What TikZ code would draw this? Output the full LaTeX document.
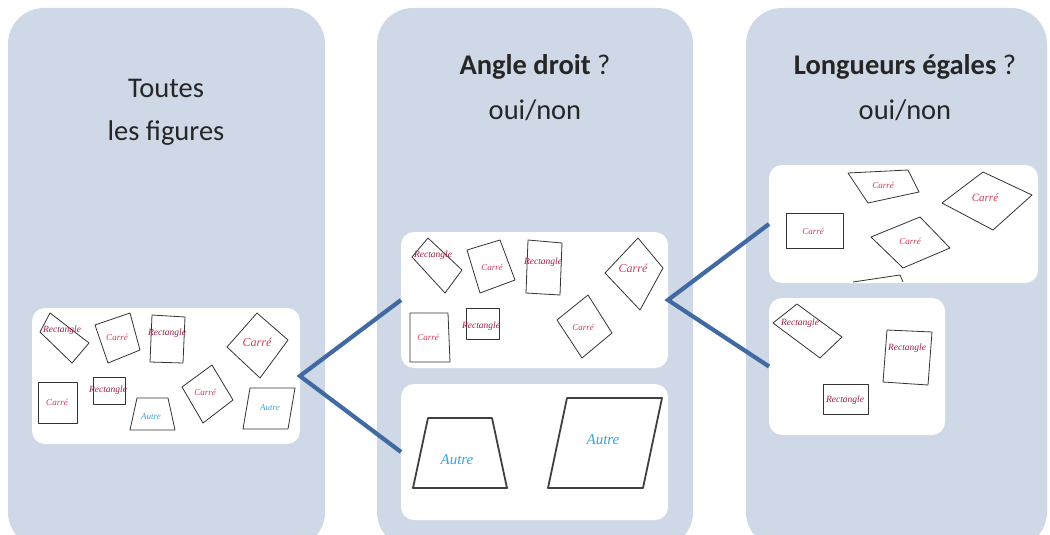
\documentclass[tikz,border=0pt]{standalone}
\usepackage{fontspec}
\setmainfont{Carlito}
\newfontfamily\labf{Liberation Serif}
\definecolor{panelc}{HTML}{CFD8E7}
\definecolor{connc}{HTML}{4169A2}
\definecolor{lred}{HTML}{D63A55}
\definecolor{dred}{HTML}{A31F3F}
\definecolor{lblue}{HTML}{3BA3DC}
\tikzset{
  panel/.style={fill=panelc, rounded corners=36pt, inner sep=0pt, outer sep=0pt},
  card/.style={fill=white, rounded corners=13pt, inner sep=0pt, outer sep=0pt},
  conn/.style={draw=connc, line width=4.2pt},
  title/.style={font=\fontsize{28.5}{34}\selectfont, text=black!85, inner sep=0pt},
  shp/.style={draw=black!80, line width=0.8pt, line join=round},
  shpb/.style={draw=black!75, line width=1.8pt, line join=round},
  redlab/.style={font=\labf\itshape\fontsize{9}{10}\selectfont, text=lred, inner sep=0pt},
  rectlab/.style={font=\labf\itshape\fontsize{9.5}{10}\selectfont, text=dred, inner sep=0pt},
  bluelab/.style={font=\labf\itshape\fontsize{9}{10}\selectfont, text=lblue, inner sep=0pt}
}
\begin{document}
\begin{tikzpicture}[x=1pt,y=-1pt]
\useasboundingbox (0,0) rectangle (1050,535);
% panels
\node[panel, minimum width=317pt, minimum height=540pt, anchor=north west] (P1) at (8,8) {};
\node[panel, minimum width=316pt, minimum height=540pt, anchor=north west] (P2) at (377,8) {};
\node[panel, minimum width=301pt, minimum height=540pt, anchor=north west] (P3) at (746,8) {};
% titles
\node[title] (T1a) at (166,88) {Toutes};
\node[title] (T1b) at (166,133) {les figures};
\node[title] (T2a) at (535,67) {\textbf{Angle droit} ?};
\node[title] (T2b) at (535,110) {oui/non};
\node[title] (T3a) at (905,67) {\textbf{Longueurs égales} ?};
\node[title] (T3b) at (905,110) {oui/non};
% cards
\node[card, minimum width=268pt, minimum height=136pt, anchor=north west] (A) at (32,308) {};
\node[card, minimum width=267pt, minimum height=136pt, anchor=north west] (B) at (401,232) {};
\node[card, minimum width=267pt, minimum height=136pt, anchor=north west] (C) at (401,384) {};
\node[card, minimum width=269pt, minimum height=118pt, anchor=north west] (D) at (769,165) {};
\node[card, minimum width=176pt, minimum height=137pt, anchor=north west] (E) at (769,298) {};
% connectors
\draw[conn] (B.west) -- (A.east) -- (C.west);
\draw[conn] (D.west) -- (B.east) -- (E.west);
% ---- card A shapes
\draw[shp] (50,313) -- (89,343) -- (72,363) -- (40,332) -- cycle;
\node[rectlab] (a1) at (62,330) {Rectangle};
\draw[shp] (95,325) -- (130,313) -- (140,350) -- (108,363) -- cycle;
\node[redlab] (a2) at (117,337) {Carré};
\draw[shp] (152,315) -- (185,317) -- (183,363) -- (150,362) -- cycle;
\node[rectlab] (a3) at (167,333) {Rectangle};
\draw[shp] (227,347) -- (257,313) -- (288,340) -- (260,378) -- cycle;
\node[redlab, font=\labf\itshape\fontsize{12}{13}\selectfont] (a4) at (257,342) {Carré};
\draw[shp] (38,382) -- (77,382) -- (77,423) -- (38,423) -- cycle;
\node[redlab] (a5) at (57,402) {Carré};
\draw[shp] (93,377) -- (125,377) -- (125,404) -- (93,404) -- cycle;
\node[rectlab] (a6) at (108,390) {Rectangle};
\draw[shp] (137,398) -- (168,398) -- (175,430) -- (130,430) -- cycle;
\node[bluelab] (a7) at (151,417) {Autre};
\draw[shp] (182,387) -- (212,365) -- (233,400) -- (203,423) -- cycle;
\node[redlab] (a8) at (205,392) {Carré};
\draw[shp] (250,388) -- (295,388) -- (288,429) -- (243,429) -- cycle;
\node[bluelab] (a9) at (270,408) {Autre};
% ---- card B shapes
\draw[shp] (412,257) -- (428,238) -- (462,270) -- (445,293) -- cycle;
\node[rectlab] (b1) at (433,255) {Rectangle};
\draw[shp] (467,250) -- (500,240) -- (515,280) -- (480,293) -- cycle;
\node[redlab] (b2) at (492,267) {Carré};
\draw[shp] (528,240) -- (562,243) -- (560,295) -- (526,293) -- cycle;
\node[rectlab] (b3) at (543,262) {Rectangle};
\draw[shp] (605,273) -- (638,238) -- (663,268) -- (640,310) -- cycle;
\node[redlab, font=\labf\itshape\fontsize{12}{13}\selectfont] (b4) at (633,268) {Carré};
\draw[shp] (410,313) -- (448,313) -- (450,362) -- (410,362) -- cycle;
\node[redlab] (b5) at (428,337) {Carré};
\draw[shp] (466,308) -- (499,308) -- (499,339) -- (466,339) -- cycle;
\node[rectlab] (b6) at (481,326) {Rectangle};
\draw[shp] (557,320) -- (588,295) -- (612,333) -- (582,358) -- cycle;
\node[redlab] (b7) at (583,327) {Carré};
% ---- card C shapes
\draw[shpb] (428,418) -- (492,418) -- (507,488) -- (413,488) -- cycle;
\node[bluelab, font=\labf\itshape\fontsize{15}{16}\selectfont] (c1) at (457,460) {Autre};
\draw[shpb] (567,398) -- (662,398) -- (643,488) -- (548,488) -- cycle;
\node[bluelab, font=\labf\itshape\fontsize{15}{16}\selectfont] (c2) at (603,440) {Autre};
% ---- card D shapes
\draw[shp] (848,173) -- (908,170) -- (919,192) -- (868,203) -- cycle;
\node[redlab] (d1) at (883,185) {Carré};
\draw[shp] (942,203) -- (983,172) -- (1032,195) -- (993,230) -- cycle;
\node[redlab, font=\labf\itshape\fontsize{11}{12}\selectfont] (d2) at (985,198) {Carré};
\draw[shp] (786,213) -- (843,213) -- (843,248) -- (786,248) -- cycle;
\node[redlab] (d3) at (813,231) {Carré};
\draw[shp] (871,237) -- (920,217) -- (950,248) -- (903,268) -- cycle;
\node[redlab] (d4) at (910,241) {Carré};
\draw[shp] (853,282) -- (900,275) -- (903,282);
% ---- card E shapes
\draw[shp] (773,323) -- (797,304) -- (842,337) -- (820,358) -- cycle;
\node[rectlab] (e1) at (800,323) {Rectangle};
\draw[shp] (887,330) -- (932,332) -- (928,385) -- (883,382) -- cycle;
\node[rectlab] (e2) at (907,348) {Rectangle};
\draw[shp] (823,384) -- (868,384) -- (868,414) -- (823,414) -- cycle;
\node[rectlab] (e3) at (845,400) {Rectangle};
\end{tikzpicture}
\end{document}
